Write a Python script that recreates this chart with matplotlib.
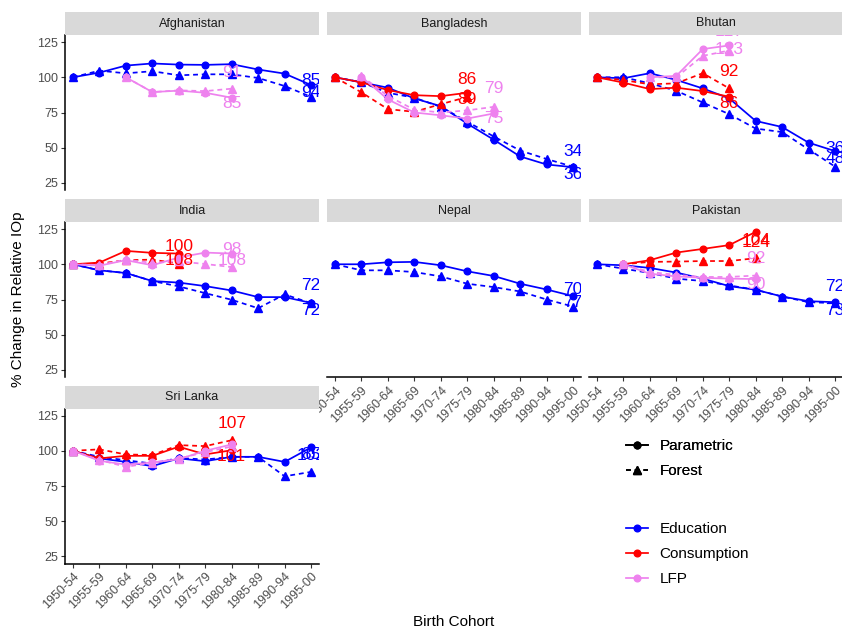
import numpy as np
import matplotlib
matplotlib.use('Agg')
import matplotlib.pyplot as plt
from matplotlib.lines import Line2D

plt.rcParams['font.family'] = ['Liberation Sans', 'DejaVu Sans']

nan = np.nan
cohorts = ['1950-54', '1955-59', '1960-64', '1965-69', '1970-74',
           '1975-79', '1980-84', '1985-89', '1990-94', '1995-00']
countries = ['Afghanistan', 'Bangladesh', 'Bhutan', 'India', 'Nepal', 'Pakistan', 'Sri Lanka']

# ---- data ----
afg_edu_p = [100, 103.3, 108.3, 109.8, 109, 108.8, 109.3, 105.5, 102.6, 94.5]
afg_edu_f = [100, 104.7, 102.8, 104.3, 101.4, 102.1, 102.1, 99.5, 93.8, 86.1]
afg_lfp_p = [nan, nan, 100, 89.5, 90.5, 89, 85.5]
afg_lfp_f = [nan, nan, 100, 89.5, 90.7, 90.2, 91.9]

bgd_edu_p = [100, 96.4, 92.6, 85, 79.5, 67.1, 55.7, 43.8, 38.1, 36.2]
bgd_edu_f = [100, 96.5, 89, 85.5, 79, 68.5, 58, 48, 42, 36.5]
bgd_con_p = [100, 96.4, 90.9, 87.3, 86.6, 89]
bgd_con_f = [100, 89.3, 77.4, 75.5, 80.9, 86]
bgd_lfp_p = [nan, 100.4, 84.3, 75, 73, 70.7, 74.3]
bgd_lfp_f = [nan, 101, 86.7, 77, 75, 76.5, 79]

btn_edu_p = [100, 99.3, 102.9, 98.1, 92.1, 85, 69, 64.7, 53.6, 47.6]
btn_edu_f = [100, 100, 95.7, 90.4, 82.1, 73.8, 63.6, 61.1, 48.8, 36.6]
btn_con_p = [100, 96.2, 91.6, 92.6, 90.2, 86.2]
btn_con_f = [100, 98, 95, 95.7, 102.9, 92.1]
btn_lfp_p = [nan, nan, 100, 101, 120, 122.6]
btn_lfp_f = [nan, nan, 100, 100, 115.2, 119]

ind_edu_p = [100, 95.7, 93.8, 88.1, 87, 84.5, 81.4, 76.7, 76.7, 72.6]
ind_edu_f = [100, 95.7, 93.8, 88.1, 84.3, 79.5, 74.8, 68.8, 78.6, 72.4]
ind_con_p = [100, 101.2, 109.5, 108.1, 107.6]
ind_con_f = [100, 100.5, 102.9, 103.3, 100.5]
ind_lfp_p = [100, 99, 102.9, 99.3, 104.8, 108.3, 107.6]
ind_lfp_f = [100, 99.5, 103.3, 101, 102, 100.2, 98]

npl_edu_p = [100, 100, 101.4, 101.7, 99.3, 95, 91.7, 86.2, 82.1, 77.4]
npl_edu_f = [100, 95.7, 95.7, 94.5, 91.4, 86.2, 83.8, 80.7, 75, 70]

pak_edu_p = [100, 99.3, 97.4, 94.1, 89.8, 84.5, 81.9, 77.1, 73.8, 73.1]
pak_edu_f = [100, 96.9, 93.8, 89.8, 88.1, 85, 81.9, 77.1, 73.1, 72.4]
pak_con_p = [nan, 100, 102.9, 108.3, 110.9, 113.6, 123]
pak_con_f = [nan, 100, 101.7, 101.9, 102.3, 102.3, 104.3]
pak_lfp_p = [nan, 100, 93.3, 91.4, 90.4, 89.8, 89.5]
pak_lfp_f = [nan, 100, 94.5, 92.5, 91, 91, 92]

lka_edu_p = [100, 94.6, 92.1, 89.1, 94.6, 92.6, 95.7, 95.7, 92.1, 102.4]
lka_edu_f = [100, 95.7, 93.3, 90.9, 94.9, 93.8, 95.7, 95.7, 81.9, 85]
lka_con_p = [100, 94.6, 96.4, 96.4, 102.9, 97.4, 100.4]
lka_con_f = [100, 101, 97.4, 97, 104, 103.3, 107.5]
lka_lfp_p = [100, 92.9, 90.2, 91.7, 94, 100, 104.5]
lka_lfp_f = [100, 93.5, 88.6, 91.5, 94.5, 99, 103]

series = {
    'Afghanistan': {('Education', 'p'): afg_edu_p, ('Education', 'f'): afg_edu_f,
                    ('LFP', 'p'): afg_lfp_p, ('LFP', 'f'): afg_lfp_f},
    'Bangladesh': {('Education', 'p'): bgd_edu_p, ('Education', 'f'): bgd_edu_f,
                   ('Consumption', 'p'): bgd_con_p, ('Consumption', 'f'): bgd_con_f,
                   ('LFP', 'p'): bgd_lfp_p, ('LFP', 'f'): bgd_lfp_f},
    'Bhutan': {('Education', 'p'): btn_edu_p, ('Education', 'f'): btn_edu_f,
               ('Consumption', 'p'): btn_con_p, ('Consumption', 'f'): btn_con_f,
               ('LFP', 'p'): btn_lfp_p, ('LFP', 'f'): btn_lfp_f},
    'India': {('Education', 'p'): ind_edu_p, ('Education', 'f'): ind_edu_f,
              ('Consumption', 'p'): ind_con_p, ('Consumption', 'f'): ind_con_f,
              ('LFP', 'p'): ind_lfp_p, ('LFP', 'f'): ind_lfp_f},
    'Nepal': {('Education', 'p'): npl_edu_p, ('Education', 'f'): npl_edu_f},
    'Pakistan': {('Education', 'p'): pak_edu_p, ('Education', 'f'): pak_edu_f,
                 ('Consumption', 'p'): pak_con_p, ('Consumption', 'f'): pak_con_f,
                 ('LFP', 'p'): pak_lfp_p, ('LFP', 'f'): pak_lfp_f},
    'Sri Lanka': {('Education', 'p'): lka_edu_p, ('Education', 'f'): lka_edu_f,
                  ('Consumption', 'p'): lka_con_p, ('Consumption', 'f'): lka_con_f,
                  ('LFP', 'p'): lka_lfp_p, ('LFP', 'f'): lka_lfp_f},
}

# end labels: (series, method, text, vertical offset in pixels)
end_labels = {
    'Afghanistan': [('Education', 'p', '85', 5), ('Education', 'f', '94', 4),
                    ('LFP', 'f', '91', 16), ('LFP', 'p', '85', -6)],
    'Bangladesh': [('Education', 'f', '34', 15), ('Education', 'p', '36', -7),
                   ('Consumption', 'p', '86', 13), ('Consumption', 'f', '89', -3),
                   ('LFP', 'p', '75', -5), ('LFP', 'f', '79', 18)],
    'Bhutan': [('Education', 'p', '36', 3), ('Education', 'f', '48', 8),
               ('Consumption', 'p', '86', -7), ('Consumption', 'f', '92', 17),
               ('LFP', 'f', '123', 1), ('LFP', 'p', '127', 14)],
    'India': [('Education', 'p', '72', 17), ('Education', 'f', '72', -7),
              ('Consumption', 'p', '100', 7), ('Consumption', 'f', '108', 3),
              ('LFP', 'p', '98', 4), ('LFP', 'f', '108', 7)],
    'Nepal': [('Education', 'p', '70', 7), ('Education', 'f', '77', 4)],
    'Pakistan': [('Education', 'p', '72', 16), ('Education', 'f', '73', -7),
                 ('Consumption', 'p', '104', -9), ('Consumption', 'f', '124', 16),
                 ('LFP', 'f', '92', 17), ('LFP', 'p', '90', -5)],
    'Sri Lanka': [('Education', 'p', '102', -8), ('Education', 'f', '85', 17),
                  ('Consumption', 'p', '101', -6), ('Consumption', 'f', '107', 17)],
}

colors = {'Education': '#0000FF', 'Consumption': '#FF0000', 'LFP': '#EE82EE'}
draw_order = ['Education', 'Consumption', 'LFP']

# ---- layout ----
W, H = 842, 630
fig = plt.figure(figsize=(W / 100, H / 100), dpi=100)

def rect(left, top, w, h):
    return [left / W, 1 - (top + h) / H, w / W, h / H]

col_left = [65, 327, 589]
row_top = [35, 222, 408.5]
pw, ph, sh = 254, 155, 23
bottom_of_col = {'Sri Lanka', 'Nepal', 'Pakistan'}

x = np.arange(len(cohorts))
dash = (0, (2.8, 2.2))

for i, c in enumerate(countries):
    r, col = divmod(i, 3)
    ax = fig.add_axes(rect(col_left[col], row_top[r], pw, ph))
    ax.set_xlim(-0.3, 9.3)
    ax.set_ylim(20, 130)
    ax.set_facecolor('white')
    for s in ['top', 'right']:
        ax.spines[s].set_visible(False)
    ax.spines['left'].set_visible(col == 0)
    ax.spines['bottom'].set_visible(c in bottom_of_col)
    for s in ['left', 'bottom']:
        ax.spines[s].set_linewidth(1.1)
        ax.spines[s].set_color('black')
    ax.set_yticks([25, 50, 75, 100, 125])
    ax.set_xticks(x)
    ax.tick_params(axis='both', length=3, width=0.8, color='#333333',
                   labelcolor='#4D4D4D', labelsize=9, pad=2)
    if col == 0:
        ax.set_yticklabels(['25', '50', '75', '100', '125'])
    else:
        ax.tick_params(axis='y', left=False, labelleft=False)
    if c in bottom_of_col:
        ax.set_xticklabels(cohorts, rotation=45, ha='right', rotation_mode='anchor')
    else:
        ax.tick_params(axis='x', bottom=False, labelbottom=False)

    data = series[c]
    for var in draw_order:
        for m in ['f', 'p']:
            if (var, m) not in data:
                continue
            vals = np.array(data[(var, m)], dtype=float)
            xx = x[:len(vals)]
            if m == 'p':
                ax.plot(xx, vals, color=colors[var], lw=1.25, ls='-', marker='o', ms=4.8,
                        clip_on=False, zorder=3)
            else:
                ax.plot(xx, vals, color=colors[var], lw=1.25, ls=dash, marker='^', ms=5.2,
                        clip_on=False, zorder=3)

    for var, m, txt, dy in end_labels[c]:
        vals = np.array(data[(var, m)], dtype=float)
        idx = len(vals) - 1
        ax.annotate(txt, (x[idx], vals[idx]), xytext=(0, dy), textcoords='offset pixels',
                    ha='center', va='center', color=colors[var], fontsize=12.5,
                    clip_on=True, zorder=4)

    sax = fig.add_axes(rect(col_left[col], row_top[r] - sh, pw, sh))
    sax.set_facecolor('#D9D9D9')
    sax.set_xticks([]); sax.set_yticks([])
    for s in sax.spines.values():
        s.set_visible(False)
    sax.text(0.5, 0.5, c, ha='center', va='center', fontsize=9, color='#1A1A1A',
             transform=sax.transAxes)

fig.text(18 / W, 1 - 299 / H, '% Change in Relative IOp', rotation=90,
         ha='center', va='center', fontsize=11, color='black')
fig.text(454 / W, 1 - 622 / H, 'Birth Cohort', ha='center', va='center',
         fontsize=11, color='black')

h1 = [Line2D([], [], color='black', lw=1.25, ls='-', marker='o', ms=4.8),
      Line2D([], [], color='black', lw=1.25, ls=dash, marker='^', ms=5.2)]
leg1 = fig.legend(h1, ['Parametric', 'Forest'], loc='center left',
                  bbox_to_anchor=(626 / W, 1 - 458.5 / H), frameon=False, fontsize=11,
                  handlelength=1.45, handletextpad=0.75, labelspacing=0.72,
                  borderpad=0, borderaxespad=0)
h2 = [Line2D([], [], color=colors[v], lw=1.25, marker='o', ms=4.8) for v in draw_order]
leg2 = fig.legend(h2, draw_order, loc='center left',
                  bbox_to_anchor=(626 / W, 1 - 554 / H), frameon=False, fontsize=11,
                  handlelength=1.45, handletextpad=0.75, labelspacing=0.72,
                  borderpad=0, borderaxespad=0)
fig.add_artist(leg1)

fig.savefig('out.png', dpi=100, facecolor='white')
